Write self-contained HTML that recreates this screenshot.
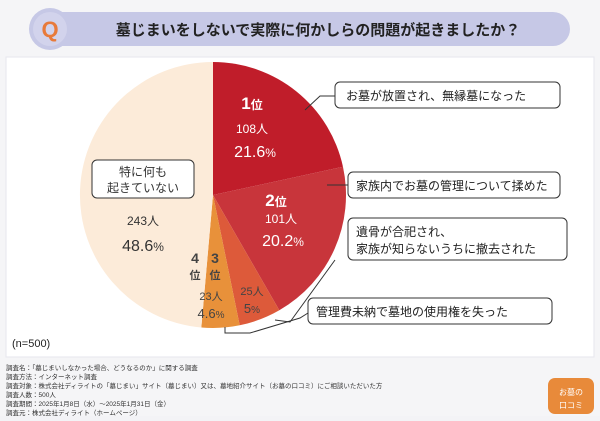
<!DOCTYPE html><html><head><meta charset="utf-8"><style>
body{margin:0;width:600px;height:416px;background:#f3f3f6;font-family:"Liberation Sans","Noto Sans CJK JP",sans-serif;overflow:hidden}
</style></head><body>
<svg width="600" height="416" viewBox="0 0 600 416" xmlns="http://www.w3.org/2000/svg" style="font-family:'Liberation Sans','Noto Sans CJK JP',sans-serif">
<rect x="0" y="0" width="600" height="416" fill="#f5f5f7"/>
<rect x="30" y="12" width="540" height="34" rx="17" fill="#c6c8e6"/>
<circle cx="50" cy="29" r="21" fill="#c6c8e6"/>
<circle cx="50" cy="29" r="17" fill="#d2d3ec"/>
<text x="50" y="37" text-anchor="middle" font-size="22" font-weight="bold" fill="#e87a3a">Q</text>
<text x="318" y="35" text-anchor="middle" font-size="15" font-weight="bold" fill="#222">墓じまいをしないで実際に何かしらの問題が起きましたか？</text>
<rect x="6" y="57" width="588" height="300" fill="#fff" stroke="#e6e6ee"/>
<g transform="translate(213,195)">
<path d="M0,0 L0,-133 A133,133 0 0 1 129.97,-28.23 Z" fill="#c01d2a"/>
<path d="M0,0 L129.97,-28.23 A133,133 0 0 1 66.32,115.29 Z" fill="#c8353b"/>
<path d="M0,0 L66.32,115.29 A133,133 0 0 1 26.69,130.29 Z" fill="#dd5a3a"/>
<path d="M0,0 L26.69,130.29 A133,133 0 0 1 -11.69,132.49 Z" fill="#e8913a"/>
<path d="M0,0 L-11.69,132.49 A133,133 0 0 1 0,-133 Z" fill="#fcebd9"/>
</g>
<g fill="none" stroke="#333" stroke-width="1">
<rect x="92" y="160" width="102" height="38" rx="5" fill="#fff"/>
<rect x="335" y="82" width="225" height="26" rx="5" fill="#fff"/>
<rect x="348" y="172" width="212" height="26" rx="5" fill="#fff"/>
<rect x="348" y="218" width="219" height="42" rx="5" fill="#fff"/>
<rect x="308" y="298" width="244" height="26" rx="5" fill="#fff"/>
<polyline points="305,110 320,96 335,96"/>
<polyline points="327,185 348,185"/>
<polyline points="275,320 290,322 335,260"/>
<polyline points="225,327 225,333 250,333 300,318 308,313"/>
</g>
<g fill="#fff" text-anchor="middle">
<text x="252" y="109" font-size="17" font-weight="bold">1<tspan font-size="12">位</tspan></text>
<text x="252" y="133" font-size="12">108人</text>
<text x="255" y="157" font-size="16">21.6<tspan font-size="12">%</tspan></text>
<text x="276" y="206" font-size="17" font-weight="bold">2<tspan font-size="12">位</tspan></text>
<text x="281" y="223" font-size="12">101人</text>
<text x="283" y="246" font-size="16">20.2<tspan font-size="12">%</tspan></text>
</g>
<g fill="#444" text-anchor="middle" font-weight="bold" font-size="14">
<text x="215" y="263">3</text><text x="215" y="279" font-size="11">位</text>
<text x="195" y="263">4</text><text x="195" y="279" font-size="11">位</text>
</g>
<g fill="#444" text-anchor="middle" font-size="11">
<text x="252" y="295">25人</text><text x="252" y="313" font-size="13">5<tspan font-size="10">%</tspan></text>
<text x="211" y="300">23人</text><text x="211" y="318" font-size="13">4.6<tspan font-size="10">%</tspan></text>
</g>
<g fill="#333" text-anchor="middle">
<text x="143" y="176" font-size="12">特に何も</text>
<text x="143" y="192" font-size="12">起きていない</text>
<text x="143" y="225" font-size="12">243人</text>
<text x="143" y="251" font-size="16">48.6<tspan font-size="12">%</tspan></text>
</g>
<g fill="#222" font-size="12">
<text x="346" y="100">お墓が放置され、無縁墓になった</text>
<text x="356" y="190">家族内でお墓の管理について揉めた</text>
<text x="356" y="236">遺骨が合祀され、</text>
<text x="356" y="253">家族が知らないうちに撤去された</text>
<text x="316" y="316">管理費未納で墓地の使用権を失った</text>
</g>
<text x="12" y="347" font-size="11" fill="#222">(n=500)</text>
<g fill="#333" font-size="6.5">
<text x="6" y="370">調査名：「墓じまいしなかった場合、どうなるのか」に関する調査</text>
<text x="6" y="379">調査方法：インターネット調査</text>
<text x="6" y="388">調査対象：株式会社ディライトの「墓じまい」サイト（墓じまい）又は、墓地紹介サイト（お墓の口コミ）にご相談いただいた方</text>
<text x="6" y="397">調査人数：500人</text>
<text x="6" y="406">調査期間：2025年1月8日（水）～2025年1月31日（金）</text>
<text x="6" y="415">調査元：株式会社ディライト（ホームページ）</text>
</g>
<rect x="548" y="378" width="46" height="36" rx="7" fill="#e88a3a"/>
<text x="571" y="395" text-anchor="middle" font-size="8" fill="#fff">お墓の</text>
<text x="571" y="408" text-anchor="middle" font-size="8" fill="#fff">口コミ</text>
</svg>
</body></html>
